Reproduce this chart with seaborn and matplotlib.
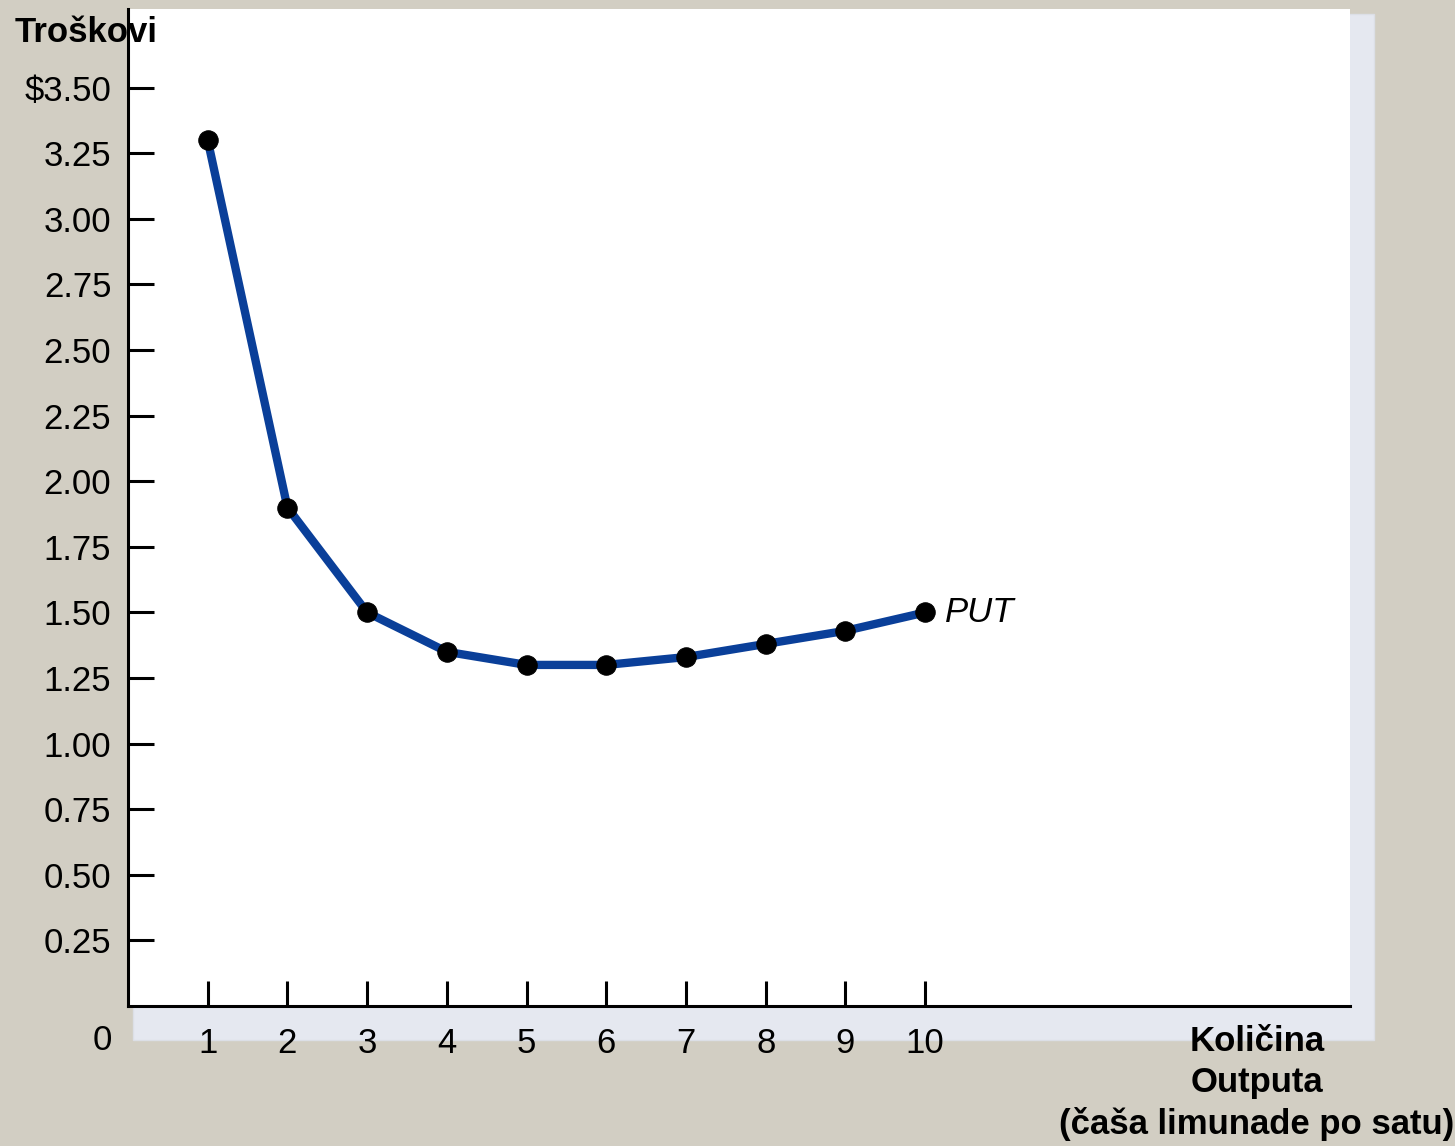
import matplotlib
matplotlib.use("Agg")
import matplotlib.pyplot as plt
import seaborn as sns
import pandas as pd
from matplotlib.patches import Rectangle

# Average total cost per glass of lemonade
quantity = [1, 2, 3, 4, 5, 6, 7, 8, 9, 10]
avg_total_cost = [3.30, 1.90, 1.50, 1.35, 1.30, 1.30, 1.33, 1.38, 1.43, 1.50]
y_ticks = [0.25, 0.50, 0.75, 1.00, 1.25, 1.50, 1.75, 2.00, 2.25, 2.50, 2.75, 3.00, 3.25, 3.50]
y_tick_labels = ["0.25", "0.50", "0.75", "1.00", "1.25", "1.50", "1.75", "2.00",
                 "2.25", "2.50", "2.75", "3.00", "3.25", "$3.50"]
x_ticks = quantity
x_tick_labels = [str(q) for q in quantity]

sns.set_style("white")
plt.rcParams["font.family"] = ["Liberation Sans", "DejaVu Sans"]

W, H = 1455, 1146
fig = plt.figure(figsize=(W / 100, H / 100), dpi=100)
fig.patch.set_facecolor("#D2CEC3")

# Drop-shadow panel behind the plotting area
fig.patches.append(Rectangle((133 / W, 1 - 1040 / H), (1374 - 133) / W, (1040 - 14) / H,
                             transform=fig.transFigure, facecolor="#E5E8F0",
                             edgecolor="#DCDFE6", linewidth=1, zorder=0))

ax = fig.add_axes([128 / W, 1 - 1006 / H, (1350 - 128) / W, (1006 - 9) / H])
ax.set_facecolor("white")
ax.set_zorder(1)

df = pd.DataFrame({"q": quantity, "cost": avg_total_cost})
sns.lineplot(data=df, x="q", y="cost", ax=ax, color="#0A3F99", linewidth=6,
             marker="o", markersize=14, markerfacecolor="black",
             markeredgecolor="black", zorder=3)

ax.set_xlim(0, 15.33)
ax.set_ylim(0, 3.80)
ax.set_xticks(x_ticks)
ax.set_xticklabels(x_tick_labels)
ax.set_yticks(y_ticks)
ax.set_yticklabels(y_tick_labels)
ax.set_xlabel("")
ax.set_ylabel("")

for side in ("top", "right"):
    ax.spines[side].set_visible(False)
for side in ("left", "bottom"):
    ax.spines[side].set_color("black")
    ax.spines[side].set_linewidth(2.2)

ax.tick_params(axis="y", direction="in", length=19, width=2.2, color="black",
               labelsize=25, labelcolor="black", pad=12, left=True)
ax.tick_params(axis="x", direction="in", length=18, width=2.2, color="black",
               labelsize=25, labelcolor="black", pad=15, bottom=True)
ax.grid(False)

# Curve label
ax.text(10.25, avg_total_cost[-1], "PUT", fontsize=25, style="italic",
        va="center", ha="left", color="black")

# Axis titles and origin label
fig.text(15 / W, 1 - 32 / H, "Troškovi", fontsize=25, fontweight="bold",
         ha="left", va="center", color="black", zorder=5)
fig.text(112 / W, 1 - 1040 / H, "0", fontsize=25, ha="right", va="center", color="black")
fig.text(1257 / W, 1 - 1083 / H, "Količina\nOutputa\n(čaša limunade po satu)",
         fontsize=25, fontweight="bold", ha="center", va="center",
         multialignment="center", linespacing=1.3, color="black")

fig.savefig("out.png", dpi=100, facecolor=fig.get_facecolor())
